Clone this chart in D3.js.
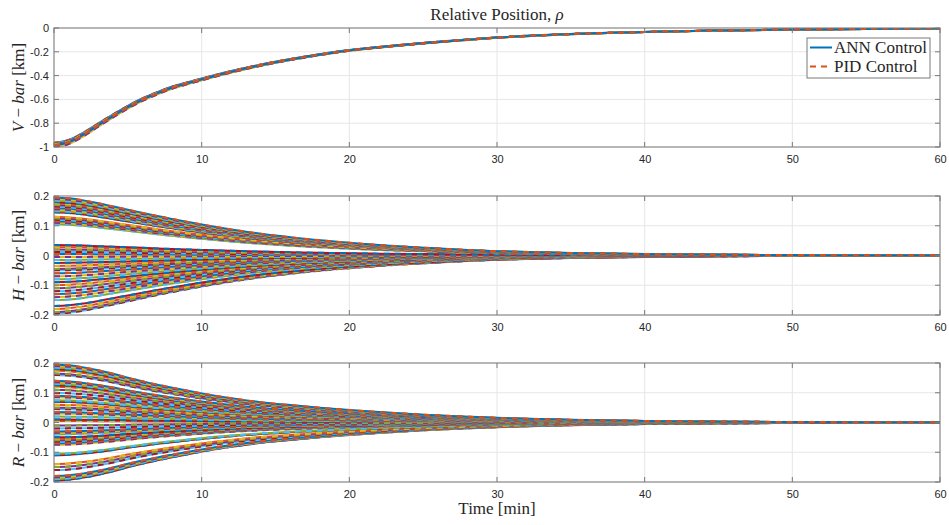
<!DOCTYPE html>
<html>
<head>
<meta charset="utf-8">
<script src="https://cdn.jsdelivr.net/npm/d3@7/dist/d3.min.js"></script>
<style>
body { margin: 0; background: #fff; }
.tick text { font-family: "Liberation Sans", Arial, sans-serif; font-size: 11px; fill: #262626; }
.serif { font-family: "Liberation Serif", "DejaVu Serif", serif; fill: #262626; }
</style>
</head>
<body>
<svg width="949" height="525"></svg>
<script>
// sample times [min] and decay shape of each component (fraction of the starting offset)
var times = [0, 1, 2, 3, 4, 5, 6, 7, 8, 9, 10, 12, 14, 16, 18, 20, 22, 25, 28, 30, 35, 40, 45, 50, 55, 60];
var vProfile = [1, 0.975, 0.91, 0.83, 0.752, 0.678, 0.612, 0.558, 0.51, 0.474, 0.44, 0.375, 0.318, 0.27, 0.228, 0.192, 0.165, 0.13, 0.1, 0.082, 0.052, 0.034, 0.022, 0.013, 0.008, 0.004];
var hProfile = [1, 0.985, 0.95, 0.9, 0.845, 0.79, 0.735, 0.68, 0.63, 0.582, 0.535, 0.45, 0.375, 0.315, 0.262, 0.22, 0.18, 0.135, 0.095, 0.075, 0.043, 0.025, 0.014, 0.008, 0.005, 0.003];
var rProfile = [1, 0.985, 0.95, 0.9, 0.84, 0.77, 0.71, 0.652, 0.6, 0.55, 0.502, 0.42, 0.35, 0.3, 0.255, 0.215, 0.18, 0.135, 0.1, 0.08, 0.046, 0.027, 0.015, 0.009, 0.005, 0.003];

// starting offsets [km] of the Monte Carlo runs
var vStarts = [-0.985, -1.0, -0.995, -0.99, -0.98, -0.975, -0.97, -0.965];
var hStarts = [0.195, 0.19, 0.185, 0.18, 0.175, 0.17, 0.165, 0.16, 0.155, 0.15, 0.145, 0.13, 0.125, 0.12, 0.115, 0.11, 0.105,
    0.035, 0.028, 0.02, 0.012, 0.005, -0.005, -0.015, -0.025, -0.035, -0.045, -0.05, -0.06, -0.07, -0.08, -0.09, -0.1,
    -0.11, -0.12, -0.13, -0.14, -0.15, -0.17, -0.18, -0.19, -0.195];
var rStarts = [0.195, 0.19, 0.185, 0.18, 0.175, 0.165, 0.16, 0.14, 0.135, 0.13, 0.125, 0.12, 0.11, 0.1, 0.09, 0.085, 0.075,
    0.07, 0.06, 0.05, 0.045, 0.035, 0.03, 0.02, 0.01, 0.005, -0.01, -0.02, -0.03, -0.035, -0.04, -0.05, -0.055, -0.06,
    -0.065, -0.07, -0.075, -0.105, -0.11, -0.14, -0.15, -0.16, -0.18, -0.185, -0.19, -0.195];

var xTicks = [0, 10, 20, 30, 40, 50, 60];
var vTicks = [-1, -0.8, -0.6, -0.4, -0.2, 0];
var hrTicks = [-0.2, -0.1, 0, 0.1, 0.2];
var seriesNames = ['ANN Control', 'PID Control'];
var colors = ['#0072BD', '#D95319', '#EDB120', '#7E2F8E', '#77AC30', '#4DBEEE', '#A2142F'];

var svg = d3.select('svg');
var margin = {left: 54, right: 940};
var boxColor = '#7a7a7a';
var gridColor = '#e6e6e6';

var x = d3.scaleLinear()
    .domain([0, 60])
    .range([margin.left, margin.right]);

var panels = [
    {top: 28, bottom: 147, domain: [-1, 0], ticks: vTicks, starts: vStarts, profile: vProfile, name: 'V'},
    {top: 196, bottom: 315, domain: [-0.2, 0.2], ticks: hrTicks, starts: hStarts, profile: hProfile, name: 'H'},
    {top: 363, bottom: 482, domain: [-0.2, 0.2], ticks: hrTicks, starts: rStarts, profile: rProfile, name: 'R'}
];

var fmt = function(d) { return String(+d.toFixed(2)); };

panels.forEach(function(p, pi) {
    var y = d3.scaleLinear()
        .domain(p.domain)
        .range([p.bottom, p.top]);

    var g = svg.append('g');

    // grid
    g.selectAll('.hgrid').data(p.ticks).enter().append('line')
        .attr('x1', margin.left).attr('x2', margin.right)
        .attr('y1', function(d) { return y(d); }).attr('y2', function(d) { return y(d); })
        .attr('stroke', gridColor).attr('stroke-width', 1);
    g.selectAll('.vgrid').data(xTicks).enter().append('line')
        .attr('x1', function(d) { return x(d); }).attr('x2', function(d) { return x(d); })
        .attr('y1', p.top).attr('y2', p.bottom)
        .attr('stroke', gridColor).attr('stroke-width', 1);

    // trajectories
    svg.append('clipPath').attr('id', 'clip' + pi)
      .append('rect')
        .attr('x', margin.left).attr('y', p.top)
        .attr('width', margin.right - margin.left).attr('height', p.bottom - p.top);

    var line = d3.line()
        .x(function(d) { return x(d[0]); })
        .y(function(d) { return y(d[1]); })
        .curve(d3.curveMonotoneX);

    var lines = g.append('g').attr('clip-path', 'url(#clip' + pi + ')');
    for (var k = p.starts.length - 1; k >= 0; k--) {
        var pts = times.map(function(t, i) { return [t, p.starts[k] * p.profile[i]]; });
        lines.append('path')
            .datum(pts)
            .attr('fill', 'none')
            .attr('stroke', colors[(2 * k) % 7])
            .attr('stroke-width', 2)
            .attr('d', line);
        lines.append('path')
            .datum(pts)
            .attr('fill', 'none')
            .attr('stroke', colors[(2 * k + 1) % 7])
            .attr('stroke-width', 2)
            .attr('stroke-dasharray', '6,5')
            .attr('d', line);
    }

    // axes
    g.append('g')
        .attr('transform', 'translate(' + margin.left + ',0)')
        .call(d3.axisLeft(y).tickValues(p.ticks).tickSize(0).tickPadding(5).tickFormat(fmt))
        .call(function(s) { s.select('.domain').remove(); });
    g.append('g')
        .attr('transform', 'translate(0,' + p.bottom + ')')
        .call(d3.axisBottom(x).tickValues(xTicks).tickSize(0).tickPadding(8).tickFormat(fmt))
        .call(function(s) { s.select('.domain').remove(); });

    // inward ticks
    xTicks.forEach(function(d) {
        g.append('line').attr('x1', x(d)).attr('x2', x(d)).attr('y1', p.bottom).attr('y2', p.bottom - 5)
            .attr('stroke', boxColor);
        g.append('line').attr('x1', x(d)).attr('x2', x(d)).attr('y1', p.top).attr('y2', p.top + 5)
            .attr('stroke', boxColor);
    });
    p.ticks.forEach(function(d) {
        g.append('line').attr('x1', margin.left).attr('x2', margin.left + 5).attr('y1', y(d)).attr('y2', y(d))
            .attr('stroke', boxColor);
        g.append('line').attr('x1', margin.right).attr('x2', margin.right - 5).attr('y1', y(d)).attr('y2', y(d))
            .attr('stroke', boxColor);
    });

    g.append('rect')
        .attr('x', margin.left).attr('y', p.top)
        .attr('width', margin.right - margin.left).attr('height', p.bottom - p.top)
        .attr('fill', 'none').attr('stroke', boxColor).attr('stroke-width', 1);

    // y label
    var lab = svg.append('text')
        .attr('class', 'serif')
        .attr('font-size', 17)
        .attr('text-anchor', 'middle')
        .attr('transform', 'translate(24,' + ((p.top + p.bottom) / 2) + ') rotate(-90)');
    lab.append('tspan').attr('font-style', 'italic').text(p.name);
    lab.append('tspan').text(' \u2212 ');
    lab.append('tspan').attr('font-style', 'italic').text('bar');
    lab.append('tspan').text(' [km]');
});

// title
var title = svg.append('text')
    .attr('class', 'serif')
    .attr('font-size', 17)
    .attr('text-anchor', 'middle')
    .attr('x', (margin.left + margin.right) / 2)
    .attr('y', 20);
title.append('tspan').text('Relative Position, ');
title.append('tspan').attr('font-style', 'italic').text('\u03c1');

// x label
svg.append('text')
    .attr('class', 'serif')
    .attr('font-size', 17)
    .attr('text-anchor', 'middle')
    .attr('x', (margin.left + margin.right) / 2)
    .attr('y', 514)
    .text('Time [min]');

// legend
var legend = svg.append('g');
legend.append('rect')
    .attr('x', 807).attr('y', 38).attr('width', 123).attr('height', 40)
    .attr('fill', '#fff').attr('stroke', boxColor);
seriesNames.forEach(function(name, i) {
    var ly = 47.5 + i * 19;
    legend.append('line')
        .attr('x1', 810).attr('x2', 832).attr('y1', ly).attr('y2', ly)
        .attr('stroke', colors[i]).attr('stroke-width', 2)
        .attr('stroke-dasharray', i === 1 ? '6,5' : null);
    legend.append('text')
        .attr('class', 'serif')
        .attr('font-size', 17)
        .attr('x', 834).attr('y', ly + 5.5)
        .text(name);
});
</script>
</body>
</html>
